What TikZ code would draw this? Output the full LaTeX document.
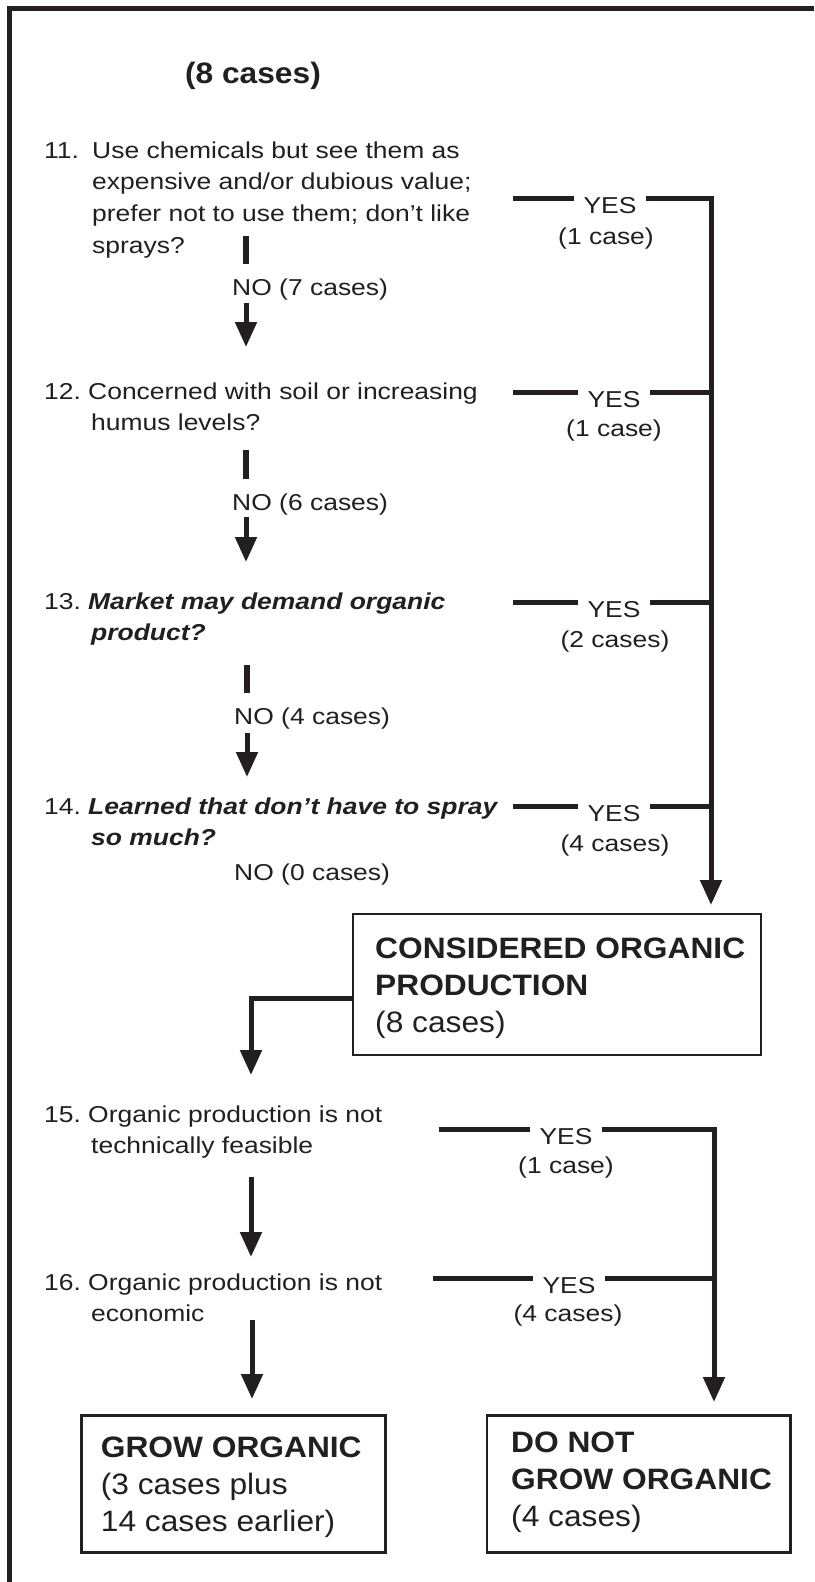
\documentclass[tikz,border=0pt]{standalone}
\usepackage{fontspec}
\setmainfont[FakeStretch=1.15]{Liberation Sans}
\newfontfamily\bigfam[FakeStretch=1.075]{Liberation Sans}
\usetikzlibrary{arrows.meta}
\definecolor{ink}{RGB}{35,31,32}
\newcommand{\fsm}{\fontsize{23pt}{31.7pt}\selectfont}
\newcommand{\fbg}{\bigfam\fontsize{29.5pt}{37pt}\selectfont}
\newcommand{\mylines}[1]{\begin{tabular}[t]{@{}l@{}}#1\end{tabular}}
\begin{document}
\begin{tikzpicture}[x=1pt,y=-1pt,
  txt/.style={inner sep=0pt, anchor=base west, font=\fsm, text=ink},
  btxt/.style={inner sep=0pt, anchor=base west, font=\fbg, text=ink},
  case/.style={inner sep=0pt, anchor=base, font=\fsm, text=ink},
  yes/.style={inner ysep=0pt, inner xsep=9pt, anchor=center, font=\fsm, text=ink, text height=16.5pt, text depth=0pt},
  conn/.style={line width=5pt, draw=ink},
  bar/.style={line width=6pt, draw=ink},
  arr/.style={conn, -{Triangle[length=25pt,width=21pt]}},
  box/.style={draw=ink, line width=2.7pt, fill=white, anchor=north west, inner sep=0pt},
  frame/.style={line width=4.7pt, draw=ink}]
\useasboundingbox (0,0) rectangle (814,1582);
\fill[white] (0,0) rectangle (814,1582);
% outer frame
\draw[frame] (9.8,1582) -- (9.8,8.3) -- (814,8.3);
% title
\node[inner sep=0pt, anchor=base, font=\fbg\bfseries, text=ink] (title) at (253,83) {(8 cases)};

% ---------- item 11
\node[txt] (n11) at (44,158) {11.};
\node[txt] (q11) at (92,158) {\mylines{Use chemicals but see them as\\expensive and/or dubious value;\\prefer not to use them; don’t like\\sprays?}};
\coordinate (b11t) at (246,236); \coordinate (b11b) at (246,264);
\draw[bar] (b11t) -- (b11b);
\node[txt] (no11) at (232,295) {NO (7 cases)};
\coordinate (a11s) at (246,303); \coordinate (a11e) at (246,347);
\draw[arr] (a11s) -- (a11e);
\coordinate (y11) at (513,198);
\node[yes] (yes11) at (610,205) {YES};
\node[case] (c11) at (606,244) {(1 case)};
\coordinate (r11) at (711,198); \coordinate (rend) at (711,905);
\draw[conn] (y11) -- (y11 -| yes11.west);
\draw[arr] (yes11.east |- y11) -- (r11) -- (rend);

% ---------- item 12
\node[txt] (n12) at (44,399) {12.};
\node[txt] (q12) at (88,399) {\mylines{Concerned with soil or increasing\\\hspace*{3pt}humus levels?}};
\coordinate (b12t) at (246,450); \coordinate (b12b) at (246,479);
\draw[bar] (b12t) -- (b12b);
\node[txt] (no12) at (232,510) {NO (6 cases)};
\coordinate (a12s) at (246,517); \coordinate (a12e) at (246,562);
\draw[arr] (a12s) -- (a12e);
\coordinate (y12) at (513,392); \coordinate (r12) at (711,392);
\node[yes] (yes12) at (614,399) {YES};
\node[case] (c12) at (614,436) {(1 case)};
\draw[conn] (y12) -- (y12 -| yes12.west);
\draw[conn] (yes12.east |- y12) -- (r12);

% ---------- item 13
\node[txt] (n13) at (44,609) {13.};
\node[txt, font=\fsm\bfseries\itshape] (q13) at (88,609) {\mylines{Market may demand organic\\\hspace*{3pt}product?}};
\coordinate (b13t) at (247,665); \coordinate (b13b) at (247,693);
\draw[bar] (b13t) -- (b13b);
\node[txt] (no13) at (234,724) {NO (4 cases)};
\coordinate (a13s) at (247,733); \coordinate (a13e) at (247,777);
\draw[arr] (a13s) -- (a13e);
\coordinate (y13) at (513,602); \coordinate (r13) at (711,602);
\node[yes] (yes13) at (614,609) {YES};
\node[case] (c13) at (615,647) {(2 cases)};
\draw[conn] (y13) -- (y13 -| yes13.west);
\draw[conn] (yes13.east |- y13) -- (r13);

% ---------- item 14
\node[txt] (n14) at (44,814) {14.};
\node[txt, font=\fsm\bfseries\itshape] (q14) at (88,814) {\mylines{Learned that don’t have to spray\\\hspace*{3pt}so much?}};
\node[txt] (no14) at (234,880) {NO (0 cases)};
\coordinate (y14) at (513,806); \coordinate (r14) at (711,806);
\node[yes] (yes14) at (614,813) {YES};
\node[case] (c14) at (615,851) {(4 cases)};
\draw[conn] (y14) -- (y14 -| yes14.west);
\draw[conn] (yes14.east |- y14) -- (r14);

% ---------- considered box
\node[box, minimum width=408pt, minimum height=141pt] (cons) at (351.7,912.7) {};
\node[btxt] (const) at (375,958) {\mylines{\bfseries CONSIDERED ORGANIC\\\bfseries PRODUCTION\\(8 cases)}};
\coordinate (k1) at (251,998); \coordinate (k2) at (251,1075);
\draw[arr] (cons.west |- k1) -- (k1) -- (k2);

% ---------- item 15
\node[txt] (n15) at (44,1122) {15.};
\node[txt] (q15) at (88,1122) {\mylines{Organic production is not\\\hspace*{3pt}technically feasible}};
\coordinate (a15s) at (251,1177); \coordinate (a15e) at (251,1257);
\draw[arr] (a15s) -- (a15e);
\coordinate (y15) at (439,1129); \coordinate (r15) at (714,1129); \coordinate (rend2) at (714,1402);
\node[yes] (yes15) at (566,1136) {YES};
\node[case] (c15) at (566,1173) {(1 case)};
\draw[conn] (y15) -- (y15 -| yes15.west);
\draw[arr] (yes15.east |- y15) -- (r15) -- (rend2);

% ---------- item 16
\node[txt] (n16) at (44,1290) {16.};
\node[txt] (q16) at (88,1290) {\mylines{Organic production is not\\\hspace*{3pt}economic}};
\coordinate (a16s) at (252,1320); \coordinate (a16e) at (252,1399);
\draw[arr] (a16s) -- (a16e);
\coordinate (y16) at (432.5,1278); \coordinate (r16) at (714,1278);
\node[yes] (yes16) at (569,1285) {YES};
\node[case] (c16) at (568,1321) {(4 cases)};
\draw[conn] (y16) -- (y16 -| yes16.west);
\draw[conn] (yes16.east |- y16) -- (r16);

% ---------- final boxes
\node[box, minimum width=304pt, minimum height=137pt] (grow) at (80,1414) {};
\node[btxt] (growt) at (100.7,1457) {\mylines{\bfseries GROW ORGANIC\\(3 cases plus\\14 cases earlier)}};
\node[box, minimum width=303.5pt, minimum height=137pt] (dont) at (485.5,1414) {};
\node[btxt] (dontt) at (511,1452) {\mylines{\bfseries DO NOT\\\bfseries GROW ORGANIC\\(4 cases)}};
\end{tikzpicture}
\end{document}
